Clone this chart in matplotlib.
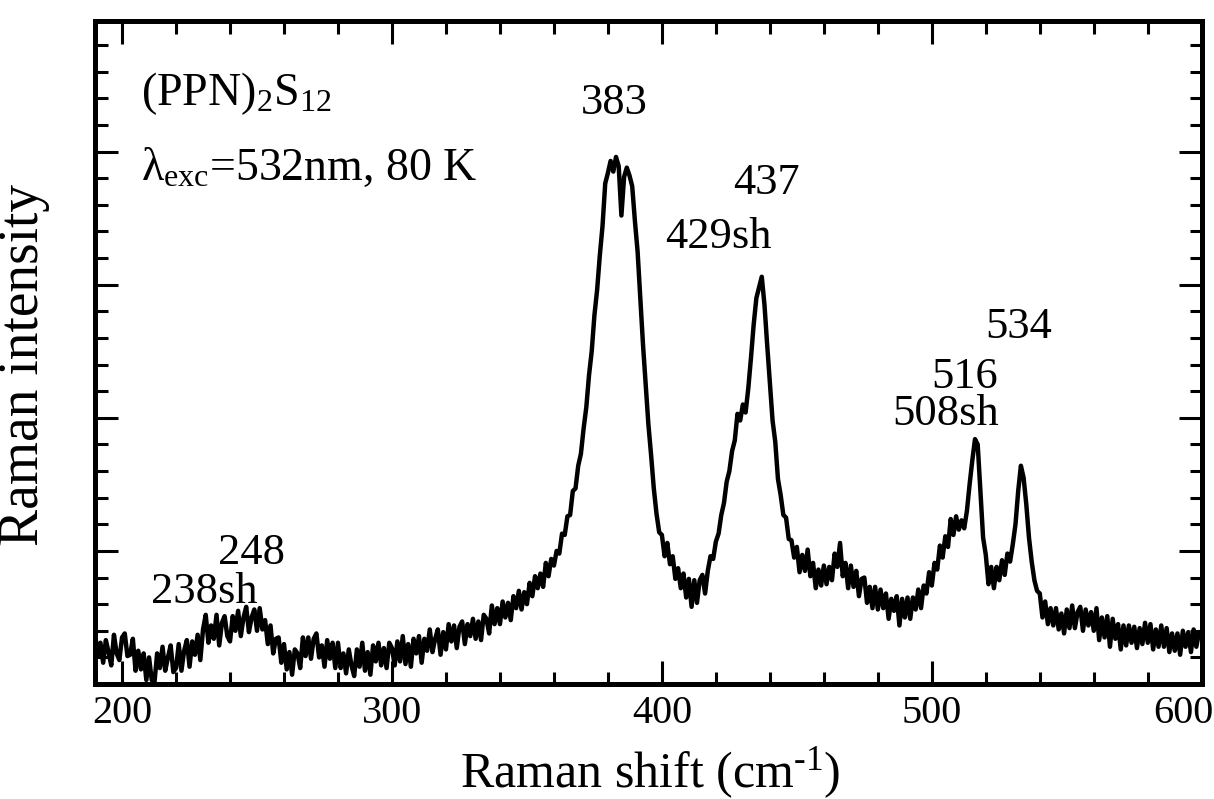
#!/usr/bin/env python3
"""Raman spectrum of (PPN)2S12 at 80 K, 532 nm excitation."""

import numpy as np
import matplotlib
matplotlib.use("Agg")
import matplotlib.pyplot as plt
from matplotlib.ticker import MultipleLocator
from matplotlib.transforms import ScaledTranslation

# sampling grid of the spectrum (cm-1), 1 cm-1 step
shift = np.arange(190, 601)

# intensity, one value per cm-1 (190 ... 600)
intensity = [
    0.38, 0.21, 0.31, 0.16, 0.33, 0.24, 0.14, 0.37, 0.23, 0.18,
    0.35, 0.38, 0.21, 0.22, 0.34, 0.10, 0.25, 0.11, 0.23, 0.03,
    0.20, 0.03, 0.01, 0.23, 0.12, 0.28, 0.10, 0.20, 0.29, 0.09,
    0.12, 0.30, 0.10, 0.25, 0.33, 0.13, 0.32, 0.22, 0.37, 0.18,
    0.41, 0.52, 0.31, 0.44, 0.34, 0.52, 0.29, 0.46, 0.51, 0.36,
    0.32, 0.51, 0.40, 0.55, 0.36, 0.50, 0.58, 0.39, 0.50, 0.56,
    0.40, 0.57, 0.41, 0.48, 0.30, 0.44, 0.23, 0.34, 0.35, 0.16,
    0.30, 0.11, 0.24, 0.07, 0.26, 0.23, 0.12, 0.35, 0.21, 0.35,
    0.19, 0.34, 0.38, 0.20, 0.29, 0.13, 0.33, 0.19, 0.31, 0.12,
    0.31, 0.12, 0.23, 0.08, 0.26, 0.14, 0.06, 0.26, 0.13, 0.31,
    0.10, 0.24, 0.07, 0.29, 0.17, 0.31, 0.14, 0.27, 0.12, 0.31,
    0.27, 0.14, 0.32, 0.17, 0.36, 0.15, 0.30, 0.13, 0.34, 0.23,
    0.36, 0.16, 0.34, 0.25, 0.41, 0.24, 0.34, 0.41, 0.22, 0.39,
    0.26, 0.45, 0.32, 0.44, 0.27, 0.43, 0.47, 0.30, 0.45, 0.36,
    0.49, 0.34, 0.47, 0.33, 0.52, 0.49, 0.38, 0.59, 0.45, 0.57,
    0.45, 0.62, 0.50, 0.61, 0.48, 0.66, 0.57, 0.70, 0.56, 0.69,
    0.60, 0.76, 0.66, 0.81, 0.72, 0.83, 0.73, 0.91, 0.81, 0.94,
    0.89, 1.00, 0.98, 1.13, 1.12, 1.26, 1.27, 1.45, 1.47, 1.64,
    1.73, 1.92, 2.08, 2.32, 2.50, 2.77, 2.96, 3.22, 3.44, 3.76,
    3.84, 3.93, 3.85, 3.96, 3.89, 3.52, 3.81, 3.88, 3.82, 3.74,
    3.48, 3.25, 2.90, 2.55, 2.25, 1.95, 1.72, 1.47, 1.28, 1.14,
    1.12, 0.96, 1.06, 0.90, 0.96, 0.79, 0.87, 0.72, 0.83, 0.65,
    0.79, 0.58, 0.78, 0.61, 0.78, 0.82, 0.68, 0.85, 0.96, 0.94,
    1.07, 1.13, 1.27, 1.36, 1.52, 1.60, 1.75, 1.83, 2.03, 1.98,
    2.10, 2.04, 2.22, 2.45, 2.70, 2.90, 2.98, 3.06, 2.85, 2.55,
    2.27, 1.98, 1.82, 1.54, 1.42, 1.27, 1.25, 1.09, 1.08, 0.95,
    1.03, 0.84, 0.97, 0.85, 1.01, 0.81, 0.91, 0.72, 0.86, 0.74,
    0.89, 0.75, 0.88, 0.78, 0.98, 0.88, 1.06, 0.81, 0.91, 0.72,
    0.89, 0.73, 0.85, 0.66, 0.79, 0.80, 0.61, 0.73, 0.57, 0.73,
    0.56, 0.71, 0.57, 0.68, 0.49, 0.64, 0.55, 0.66, 0.44, 0.64,
    0.50, 0.65, 0.49, 0.65, 0.56, 0.71, 0.57, 0.74, 0.68, 0.84,
    0.74, 0.91, 0.86, 1.04, 0.95, 1.11, 1.03, 1.24, 1.12, 1.26,
    1.16, 1.23, 1.17, 1.30, 1.50, 1.68, 1.84, 1.80, 1.45, 1.10,
    0.97, 0.75, 0.88, 0.72, 0.88, 0.78, 0.93, 0.82, 0.98, 0.92,
    1.05, 1.20, 1.45, 1.64, 1.55, 1.35, 1.10, 0.92, 0.78, 0.70,
    0.68, 0.50, 0.62, 0.45, 0.57, 0.44, 0.57, 0.41, 0.53, 0.38,
    0.56, 0.42, 0.59, 0.42, 0.54, 0.58, 0.40, 0.56, 0.44, 0.54,
    0.40, 0.57, 0.33, 0.50, 0.35, 0.51, 0.28, 0.49, 0.34, 0.45,
    0.26, 0.44, 0.29, 0.44, 0.31, 0.43, 0.27, 0.42, 0.30, 0.46,
    0.31, 0.45, 0.26, 0.41, 0.28, 0.44, 0.28, 0.42, 0.24, 0.38,
    0.25, 0.38, 0.22, 0.40, 0.28, 0.39, 0.24, 0.41, 0.28, 0.39, 0.36,
]

# peak labels: text, x (cm-1), baseline y
peak_labels = ["383", "437", "429sh", "534", "516", "508sh", "248", "238sh"]
peak_x = [382.5, 438.6, 421.0, 532.3, 512.3, 505.2, 247.8, 230.4]
peak_y = [4.28, 3.68, 3.275, 2.597, 2.225, 1.946, 0.899, 0.606]

x_ticks = [200, 300, 400, 500, 600]

plt.rcParams["font.family"] = "Liberation Serif"
plt.rcParams["mathtext.default"] = "regular"

fig = plt.figure(figsize=(12.14, 7.99), dpi=100)
ax = fig.add_axes([0.0783, 0.1439, 0.9116, 0.8304])

ax.plot(shift, intensity, color="black", linewidth=3.2)

ax.set_xlim(190, 600)
ax.set_ylim(0, 4.985)
ax.set_xticks(x_ticks, labels=[str(t) for t in x_ticks])
ax.xaxis.set_minor_locator(MultipleLocator(20))
ax.yaxis.set_major_locator(MultipleLocator(1))
ax.yaxis.set_minor_locator(MultipleLocator(0.2))

ax.tick_params(which="both", direction="in", top=True, right=True,
               labelleft=False, width=2.2, color="black")
ax.tick_params(which="major", length=16.5, labelsize=29, pad=8)
ax.tick_params(which="minor", length=9)
for spine in ax.spines.values():
    spine.set_linewidth(3.6)

# last tick label sits a bit to the left so it stays inside the figure
last = ax.xaxis.get_major_ticks()[-1].label1
last.set_transform(last.get_transform() + ScaledTranslation(-0.18, 0, fig.dpi_scale_trans))

ax.set_xlabel("Raman shift (cm$^{\u20101}$)", fontsize=36)
ax.set_ylabel("Raman intensity", fontsize=40)
ax.xaxis.set_label_coords(0.502, -0.092)
ax.xaxis.label.set_va("top")
ax.yaxis.set_label_coords(-0.0407, 0.481)

ax.text(207.1, 4.35, "(PPN)$_2$S$_{12}$", fontsize=33, ha="left", va="baseline")
ax.text(207.1, 3.79, "λ$_{exc}$=532nm, 80 K", fontsize=33, ha="left", va="baseline")

for label, x, y in zip(peak_labels, peak_x, peak_y):
    ax.text(x, y, label, fontsize=32, ha="center", va="baseline")

fig.savefig("out.png", dpi=100)
